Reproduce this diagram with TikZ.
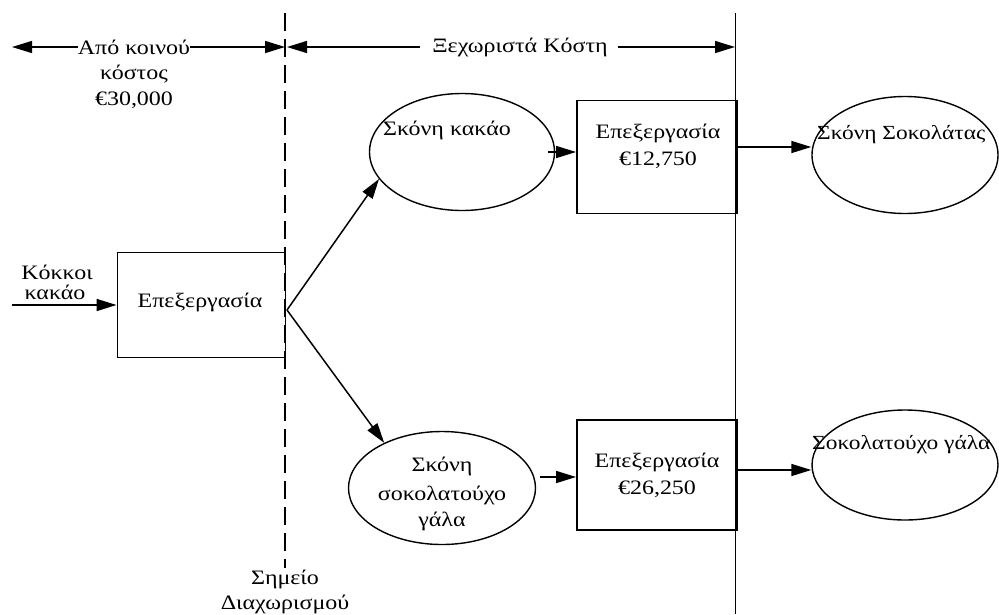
\documentclass[tikz,border=0pt]{standalone}
\usepackage{fontspec}
\setmainfont{Liberation Serif}[FakeStretch=1.17]
\usetikzlibrary{arrows.meta,shapes.geometric}
\begin{document}
\begin{tikzpicture}[x=1pt,y=-1pt,
  txt/.style={font=\fontsize{20.5}{26}\selectfont, inner sep=0pt, align=center},
  arr/.style={line width=1.5pt, -{Triangle[length=20pt,width=12pt]}},
  oval/.style={draw, ellipse, line width=1.4pt, minimum width=#1, inner sep=0pt},
  thinbox/.style={draw, line width=0.9pt, minimum width=168pt, minimum height=105pt, inner sep=0pt},
  thickbox/.style={draw, line width=1.9pt, minimum width=160pt, inner sep=0pt}]
\useasboundingbox (0,0) rectangle (999,614);
% vertical lines
\draw[line width=1.4pt, dash pattern=on 18pt off 8pt] (285,13) -- (285,568);
\draw[line width=0.9pt] (735,13) -- (735,614);
% top labels
\node[txt] (apo) at (134,47) {Από κοινού};
\node[txt] (kostos) at (134,74) {κόστος};
\node[txt] (k30) at (134,100) {€30,000};
\coordinate (Lend) at (12,47);
\coordinate (splitR) at (285,47);
\coordinate (splitL) at (287,47);
\coordinate (sepR) at (735,47);
\draw[arr] (apo.west) -- (Lend);
\draw[arr] (apo.east) -- (splitR);
\node[txt] (xex) at (520,47) {Ξεχωριστά Κόστη};
\draw[arr] (xex.west) ++(-12,0) -- (splitL);
\draw[arr] (xex.east) ++(10,0) -- (sepR);
% split label
\node[txt] (shm) at (285,579) {Σημείο};
\node[txt] (diax) at (285,604) {Διαχωρισμού};
% input
\node[thinbox] (b1) at (201,305) {};
\node[txt] at (200,302) {Επεξεργασία};
\coordinate (in) at (12,305);
\draw[arr] (in) -- (b1.west);
\node[txt] (kok) at (57,272) {Κόκκοι};
\node[txt] (kak) at (55,292) {κακάο};
% ellipses
\node[oval=185pt, minimum height=117pt] (e1) at (462,152) {};
\node[txt] at (447,130) {Σκόνη κακάο};
\node[oval=187pt, minimum height=113pt] (e2) at (442,488) {};
\node[txt] at (442,466) {Σκόνη};
\node[txt] at (442,495) {σοκολατούχο};
\node[txt] at (442,521) {γάλα};
\coordinate (sp) at (287,310);
\draw[arr] (sp) -- (e1.-162);
\draw[arr] (sp) -- (e2.142);
% processing boxes
\node[thickbox, minimum height=113pt] (b2) at (657,157) {};
\node[txt] at (658,133) {Επεξεργασία};
\node[txt] at (658,160) {€12,750};
\node[thickbox, minimum height=110pt] (b3) at (657,475) {};
\node[txt] at (657,462) {Επεξεργασία};
\node[txt] at (657,489) {€26,250};
\coordinate (a1s) at (548,152);
\draw[arr] (a1s) -- (b2.west |- a1s);
\coordinate (a2s) at (540,477);
\draw[arr] (a2s) -- (b3.west |- a2s);
% final ellipses
\node[oval=186pt, minimum height=117pt] (e3) at (905,155) {};
\node[txt, anchor=west, font=\fontsize{20}{24}\selectfont] at (817,135) {Σκόνη Σοκολάτας};
\node[oval=186pt, minimum height=110pt] (e4) at (905,465) {};
\node[txt, anchor=west, font=\fontsize{20}{24}\selectfont] at (812,445) {Σοκολατούχο γάλα};
\draw[arr] (b2.east |- 0,147) -- (e3.west |- 0,147);
\draw[arr] (b3.east |- 0,470) -- (e4.west |- 0,470);
\end{tikzpicture}
\end{document}
